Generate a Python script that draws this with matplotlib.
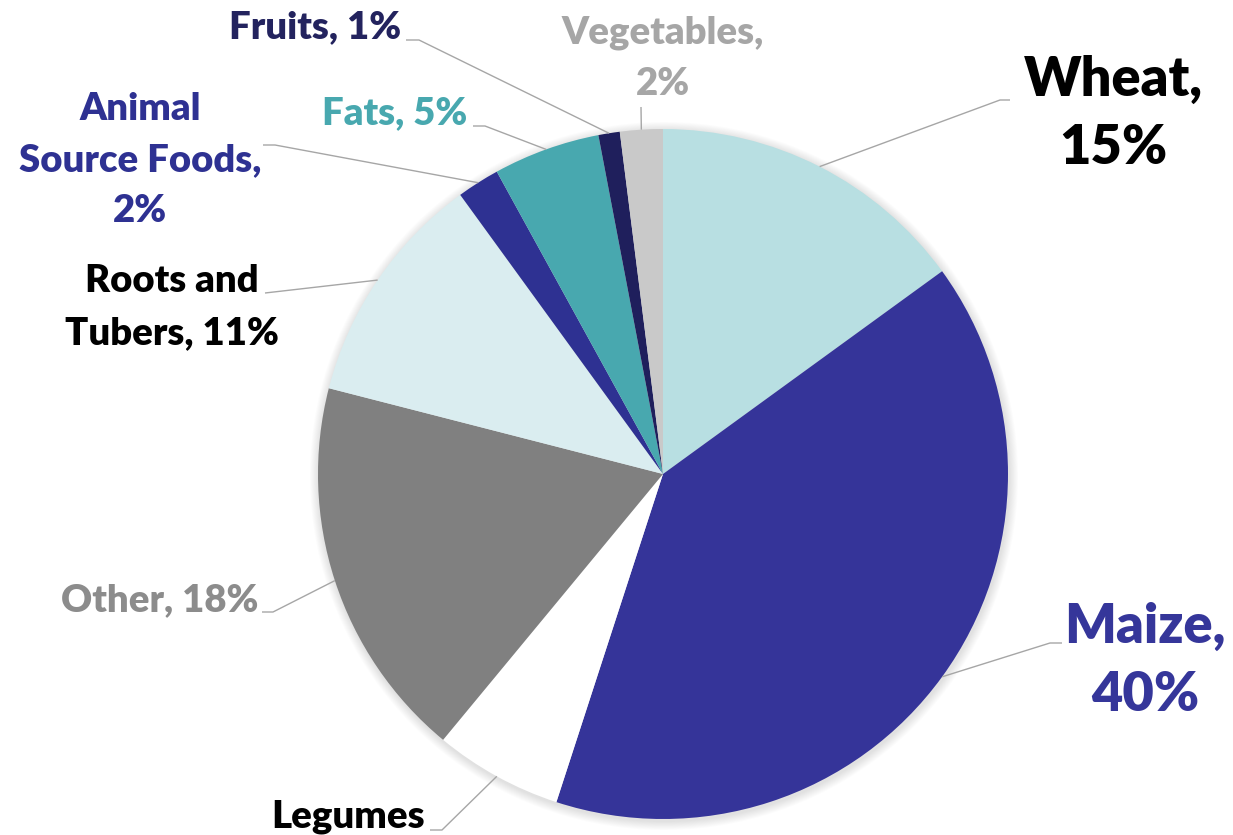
import matplotlib.pyplot as plt
import matplotlib.patches as mpatches
import numpy as np

# data
foods = ["Wheat", "Maize", "Legumes", "Other", "Roots and Tubers",
         "Animal Source Foods", "Fats", "Fruits", "Vegetables"]
shares = [15, 40, 6, 18, 11, 2, 5, 1, 2]
label_texts = ["Wheat,\n15%", "Maize,\n40%", "Legumes", "Other, 18%",
               "Roots and\nTubers, 11%", "Animal\nSource Foods,\n2%",
               "Fats, 5%", "Fruits, 1%", "Vegetables,\n2%"]

slice_colors = ["#B8DFE2", "#353499", "#FFFFFF", "#808080", "#DAEDF0",
                "#2E3192", "#48A8AF", "#1F1F5C", "#C9C9C9"]
text_colors = ["#000000", "#35369A", "#000000", "#8C8C8C", "#000000",
               "#2E3192", "#48A8AF", "#23235E", "#A6A6A6"]
big = [True, True, False, False, False, False, False, False, False]

# layout in pixel coords (y measured from the top)
W, H = 1233, 835
cx, cy, r = 663, 474, 345
label_pos = [(1113, 114), (1145, 661), (348, 817), (160, 600), (172, 307),
             (140, 160), (395, 113), (315, 27), (663, 58)]
# corner of the leader line and the point next to the text
leader_pts = [[(1000, 100), (1010, 100)],
              [(1050, 643), (1062, 643)],
              [(442, 830), (430, 830)],
              [(273, 612), (262, 612)],
              [(265, 293)],
              [(275, 145), (263, 145)],
              [(485, 126), (473, 126)],
              [(419, 40), (406, 40)],
              [(641, 107)]]


def py(y):
    return H - y


plt.rcParams['font.family'] = ['Lato', 'DejaVu Sans']

fig = plt.figure(figsize=(W / 100, H / 100), dpi=100)
ax = fig.add_axes([0, 0, 1, 1])

# soft shadow round the pie
for i in range(10):
    ax.add_patch(mpatches.Circle((cx + 1, py(cy) - 2), r + 1 + i * 0.9,
                                 color='black', alpha=0.012, lw=0, zorder=1))

wedges, _ = ax.pie(shares, colors=slice_colors, startangle=90, counterclock=False,
                   center=(cx, py(cy)), radius=r,
                   wedgeprops=dict(linewidth=0, zorder=2), frame=True)
ax.set_xlim(0, W)
ax.set_ylim(0, H)
ax.set_aspect('equal')
ax.axis('off')

for w, txt, tc, b, pos, pts in zip(wedges, label_texts, text_colors, big,
                                   label_pos, leader_pts):
    mid = np.deg2rad((w.theta1 + w.theta2) / 2)
    x0 = cx + r * np.cos(mid)
    y0 = py(cy) + r * np.sin(mid)
    xs = [x0] + [p[0] for p in pts]
    ys = [y0] + [py(p[1]) for p in pts]
    ax.plot(xs, ys, color="#A6A6A6", lw=1.0, zorder=3, solid_capstyle='butt')
    ax.text(pos[0], py(pos[1]), txt, color=tc, ha='center', va='center',
            multialignment='center', fontweight='heavy',
            fontsize=39 if b else 27.5, linespacing=1.43 if b else 1.62,
            zorder=4)

fig.savefig("out.png", dpi=100)
